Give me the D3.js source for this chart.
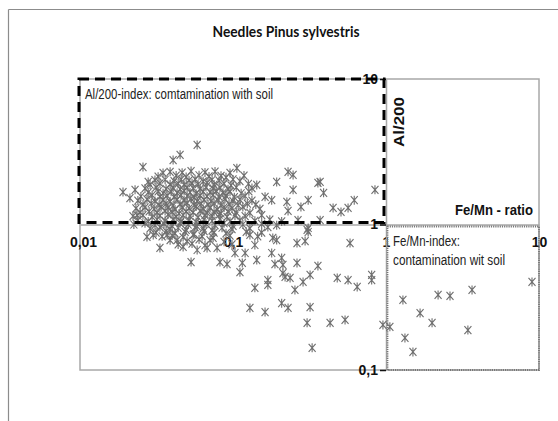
<!DOCTYPE html>
<html>
<head>
<meta charset="utf-8">
<script src="https://cdn.jsdelivr.net/npm/d3@7"></script>
<style>
  html, body { margin: 0; padding: 0; background: #fff; }
  svg { display: block; }
  .narrow { font-family: "Liberation Sans Narrow", "Arial Narrow", "Liberation Sans", Arial, sans-serif; }
</style>
</head>
<body>
<script>
// ---------------- DATA ----------------
const title = "Needles Pinus sylvestris";
const xAxisTitle = "Fe/Mn - ratio";
const yAxisTitle = "Al/200";
const xTicks = [0.01, 0.1, 1, 10];
const yTicks = [0.1, 1, 10];
const xTickLabels = ["0,01", "0,1", "1", "10"];
const yTickLabels = ["0,1", "1", "10"];
const boxAlLabel = "Al/200-index: comtamination with soil";
const boxFeLabel = ["Fe/Mn-index:", "contamination wit soil"];

// [Fe/Mn ratio, Al/200] — scattered samples
const samplesOuter = [
  [0.0191,1.67],[0.0212,1.52],[0.0229,1.73],[0.0236,1.16],[0.0258,2.48],[0.0279,1.96],
  [0.0309,2.02],[0.0349,2.26],[0.0406,2.77],[0.0451,3.01],[0.0583,3.52],[0.106,2.44],
  [0.143,1.87],[0.193,1.96],[0.229,2.30],[0.247,2.19],[0.247,1.73],[0.162,1.55],
  [0.179,1.47],[0.225,1.43],[0.229,1.24],[0.278,1.32],[0.310,1.47],[0.359,1.93],
  [0.371,1.96],[0.391,1.65],[0.451,1.30],[0.508,1.22],[0.565,1.30],[0.620,1.47],
  [0.847,1.73],[0.266,1.07],[0.371,1.07],[0.310,0.946],[0.310,0.888],
  [0.0274,0.821],[0.0301,0.848],[0.0333,0.690],[0.0371,0.848],[0.0431,0.782],[0.0472,0.701],
  [0.0532,0.552],[0.0583,0.668],[0.0677,0.690],[0.0787,0.690],[0.0822,0.552],[0.0914,0.535],
  [0.103,0.637],[0.115,0.544],[0.111,0.470],[0.120,0.637],[0.129,0.848],[0.139,0.723],
  [0.143,0.570],[0.182,0.808],[0.193,0.782],[0.179,0.637],[0.188,0.535],[0.208,0.589],
  [0.212,0.527],[0.219,0.436],[0.212,0.463],[0.236,0.429],[0.262,0.544],[0.262,0.746],
  [0.296,0.770],[0.305,0.917],[0.169,0.415],[0.169,0.384],[0.139,0.367],[0.254,0.355],
  [0.287,0.403],[0.319,0.450],[0.359,0.519],[0.480,0.429],[0.565,0.415],[0.648,0.372],
  [0.806,0.450],[0.806,0.415],[0.582,0.746],[0.129,0.267],[0.162,0.250],[0.208,0.288],
  [0.229,0.267],[0.319,0.270],[0.305,0.211],[0.431,0.211],[0.540,0.221],[0.329,0.142],
  [0.955,0.204],[1.06,0.198],[1.29,0.303],[1.33,0.166],[1.50,0.133],[1.67,0.246],
  [2.00,0.211],[2.19,0.328],[2.62,0.323],[3.65,0.355],[3.43,0.188],[9.00,0.403]
];

// [Fe/Mn ratio, Al/200] — dense central cloud
const samplesCloud = [
  [0.0388,2.30],[0.0465,2.27],[0.0532,2.33],[0.0656,2.28],[0.0763,2.31],[0.0956,2.26],
  [0.0324,2.13],[0.0425,2.17],[0.0494,2.12],[0.0600,2.18],[0.0697,2.14],[0.0835,2.16],[0.0900,2.11],[0.118,2.17],
  [0.0360,2.03],[0.0412,1.99],[0.0458,2.04],[0.0516,2.01],[0.0565,2.05],[0.0638,1.98],[0.0730,2.03],[0.0811,2.00],[0.100,2.04],[0.111,1.99],
  [0.0287,1.88],[0.0333,1.92],[0.0388,1.89],[0.0438,1.91],[0.0479,1.87],[0.0540,1.92],[0.0591,1.89],[0.0677,1.93],[0.0752,1.88],[0.0874,1.91],[0.0971,1.86],[0.126,1.90],
  [0.0266,1.77],[0.0314,1.80],[0.0365,1.76],[0.0406,1.79],[0.0451,1.75],[0.0501,1.80],[0.0549,1.78],[0.0609,1.76],[0.0666,1.81],[0.0741,1.77],[0.0822,1.79],[0.0928,1.75],[0.105,1.80],[0.133,1.78],
  [0.0279,1.66],[0.0324,1.69],[0.0349,1.64],[0.0394,1.68],[0.0431,1.65],[0.0479,1.70],[0.0524,1.66],[0.0574,1.63],[0.0638,1.68],[0.0708,1.66],[0.0775,1.70],[0.0860,1.65],[0.0956,1.68],[0.113,1.64],[0.127,1.69],
  [0.0250,1.56],[0.0296,1.59],[0.0333,1.55],[0.0371,1.58],[0.0412,1.54],[0.0458,1.59],[0.0501,1.57],[0.0557,1.53],[0.0609,1.58],[0.0677,1.56],[0.0741,1.60],[0.0811,1.55],[0.0900,1.58],[0.102,1.54],[0.120,1.57],
  [0.0239,1.46],[0.0274,1.49],[0.0309,1.45],[0.0349,1.48],[0.0388,1.44],[0.0431,1.49],[0.0479,1.46],[0.0532,1.50],[0.0583,1.45],[0.0647,1.48],[0.0719,1.44],[0.0799,1.47],[0.0887,1.50],[0.100,1.45],[0.111,1.48],[0.133,1.46],
  [0.0258,1.37],[0.0292,1.40],[0.0329,1.36],[0.0365,1.39],[0.0406,1.35],[0.0451,1.38],[0.0501,1.41],[0.0557,1.36],[0.0619,1.39],[0.0687,1.37],[0.0752,1.40],[0.0835,1.35],[0.0942,1.38],[0.108,1.36],[0.124,1.39],[0.141,1.37],
  [0.0232,1.29],[0.0266,1.31],[0.0305,1.28],[0.0339,1.32],[0.0376,1.30],[0.0418,1.27],[0.0465,1.31],[0.0516,1.29],[0.0574,1.33],[0.0638,1.28],[0.0708,1.30],[0.0787,1.27],[0.0874,1.31],[0.0985,1.29],[0.116,1.32],[0.150,1.28],
  [0.0247,1.21],[0.0283,1.23],[0.0319,1.20],[0.0360,1.24],[0.0400,1.22],[0.0444,1.19],[0.0494,1.23],[0.0549,1.21],[0.0609,1.24],[0.0677,1.20],[0.0752,1.22],[0.0835,1.19],[0.0928,1.23],[0.105,1.21],[0.129,1.20],
  [0.0222,1.14],[0.0258,1.16],[0.0296,1.13],[0.0333,1.15],[0.0376,1.17],[0.0425,1.13],[0.0472,1.16],[0.0524,1.14],[0.0591,1.12],[0.0656,1.16],[0.0730,1.14],[0.0811,1.17],[0.0914,1.13],[0.103,1.15],[0.120,1.14],[0.154,1.16],
  [0.0239,1.07],[0.0279,1.05],[0.0319,1.08],[0.0360,1.06],[0.0406,1.09],[0.0458,1.05],[0.0516,1.07],[0.0574,1.04],[0.0647,1.08],[0.0730,1.06],[0.0822,1.09],[0.0956,1.05],[0.111,1.07],[0.139,1.06],[0.174,1.08],[0.208,1.05],
  [0.0225,1.00],[0.0266,1.02],[0.0309,0.99],[0.0354,1.01],[0.0400,0.98],[0.0451,1.02],[0.0509,1.00],[0.0583,0.97],[0.0666,1.01],[0.0763,0.99],[0.0874,1.02],[0.100,0.98],[0.116,1.00],[0.154,1.01],[0.193,0.99],
  [0.0287,0.94],[0.0333,0.96],[0.0388,0.93],[0.0438,0.95],[0.0494,0.92],[0.0565,0.96],[0.0638,0.94],[0.0730,0.91],[0.0848,0.95],[0.0985,0.93],[0.129,0.94],[0.169,0.96],
  [0.0314,0.88],[0.0365,0.90],[0.0418,0.87],[0.0486,0.89],[0.0557,0.86],[0.0647,0.90],[0.0752,0.88],[0.0900,0.87],[0.122,0.89],[0.154,0.88],
  [0.0344,0.83],[0.0400,0.84],[0.0472,0.82],[0.0549,0.85],[0.0628,0.83],[0.0741,0.81],[0.0956,0.84],[0.145,0.83],
  [0.0388,0.78],[0.0501,0.77],[0.0600,0.79],[0.0708,0.78],[0.0874,0.76],
  [0.0438,0.73],[0.0540,0.74],[0.0656,0.72],[0.0985,0.73]
];

// ---------------- CHART ----------------
const W = 558, H = 421;
const svg = d3.select("body").append("svg").attr("width", W).attr("height", H);

const x = d3.scaleLog().domain([0.01, 10]).range([80, 539]);
const y = d3.scaleLog().domain([0.1, 10]).range([370, 79]);

// outer frame (top and left edges visible)
svg.append("line").attr("x1", 8.5).attr("x2", W).attr("y1", 9.5).attr("y2", 9.5)
  .attr("stroke", "#8c8c8c").attr("stroke-width", 1.2);
svg.append("line").attr("x1", 8.5).attr("x2", 8.5).attr("y1", 9.5).attr("y2", H)
  .attr("stroke", "#8c8c8c").attr("stroke-width", 1.2);

// title
svg.append("text").attr("x", 286).attr("y", 37).attr("text-anchor", "middle")
  .attr("font-family", "Lato, 'Open Sans', sans-serif").attr("font-weight", "bold")
  .attr("font-size", 14.5).attr("fill", "#111")
  .attr("textLength", 147).attr("lengthAdjust", "spacingAndGlyphs").text(title);

// plot area border
svg.append("rect").attr("x", x(0.01)).attr("y", y(10))
  .attr("width", x(10) - x(0.01)).attr("height", y(0.1) - y(10))
  .attr("fill", "none").attr("stroke", "#a8a8a8").attr("stroke-width", 1.5);

// axes crossing at (1,1)
const xAxis = d3.axisBottom(x).tickValues(xTicks)
  .tickFormat((d, i) => xTickLabels[i]).tickSizeInner(0).tickSizeOuter(0).tickPadding(13);
const gx = svg.append("g").attr("transform", `translate(0,${y(1)})`).call(xAxis);
gx.select(".domain").attr("stroke", "#a8a8a8").attr("stroke-width", 1.5);
gx.selectAll("text").attr("class", "narrow").attr("font-weight", "bold").attr("font-size", 14)
  .attr("fill", "#111").attr("transform", (d, i) => i === 0 ? "translate(3,0)" : null);

const yAxis = d3.axisLeft(y).tickValues(yTicks)
  .tickFormat((d, i) => yTickLabels[i]).tickSizeInner(6).tickSizeOuter(0).tickPadding(2);
const gy = svg.append("g").attr("transform", `translate(${x(1)},0)`).call(yAxis);
gy.select(".domain").attr("stroke", "#a8a8a8").attr("stroke-width", 1.5);
gy.selectAll(".tick line").attr("stroke", "#111").attr("stroke-width", 1.5);
gy.selectAll("text").attr("class", "narrow").attr("font-weight", "bold").attr("font-size", 14).attr("fill", "#111");

// Fe/Mn-index box (dotted)
svg.append("rect").attr("x", x(1) + 1.5).attr("y", y(1) + 2)
  .attr("width", x(10) - x(1) - 1.5).attr("height", y(0.1) - y(1) - 2)
  .attr("fill", "none").attr("stroke", "#777").attr("stroke-width", 1.8)
  .attr("stroke-dasharray", "1.2,1");

// markers
const star = "M-3.5,-4L3.5,4M3.5,-4L-3.5,4M0,-4.5L0,4.5";
const allPts = samplesCloud.concat(samplesOuter);
svg.append("g").selectAll("path").data(allPts).join("path")
  .attr("d", star)
  .attr("transform", d => `translate(${x(d[0])},${y(d[1])})`)
  .attr("fill", "none").attr("stroke", "#6e6e6e").attr("stroke-width", 1.1);

// Al/200-index box (dashed)
svg.append("rect").attr("x", x(0.01) - 1).attr("y", y(10))
  .attr("width", x(1) - 2 - x(0.01) + 1).attr("height", y(1) - 2 - y(10))
  .attr("fill", "none").attr("stroke", "#000").attr("stroke-width", 3)
  .attr("stroke-dasharray", "10,6");

// box labels
svg.append("text").attr("class", "narrow").attr("x", 85).attr("y", 99)
  .attr("font-size", 14).attr("fill", "#222")
  .attr("textLength", 188).attr("lengthAdjust", "spacingAndGlyphs").text(boxAlLabel);
svg.append("text").attr("class", "narrow").attr("x", 393).attr("y", 246)
  .attr("font-size", 14).attr("fill", "#222")
  .attr("textLength", 67).attr("lengthAdjust", "spacingAndGlyphs").text(boxFeLabel[0]);
svg.append("text").attr("class", "narrow").attr("x", 393).attr("y", 265)
  .attr("font-size", 14).attr("fill", "#222")
  .attr("textLength", 112).attr("lengthAdjust", "spacingAndGlyphs").text(boxFeLabel[1]);

// axis titles
svg.append("text").attr("class", "narrow").attr("x", 455).attr("y", 215)
  .attr("font-weight", "bold").attr("font-size", 15)
  .attr("textLength", 78).attr("lengthAdjust", "spacingAndGlyphs")
  .attr("fill", "#111").text(xAxisTitle);
svg.append("text").attr("class", "narrow")
  .attr("transform", "translate(403.5,147) rotate(-90)")
  .attr("font-weight", "bold").attr("font-size", 15)
  .attr("textLength", 50).attr("lengthAdjust", "spacingAndGlyphs")
  .attr("fill", "#111").text(yAxisTitle);
</script>
</body>
</html>
